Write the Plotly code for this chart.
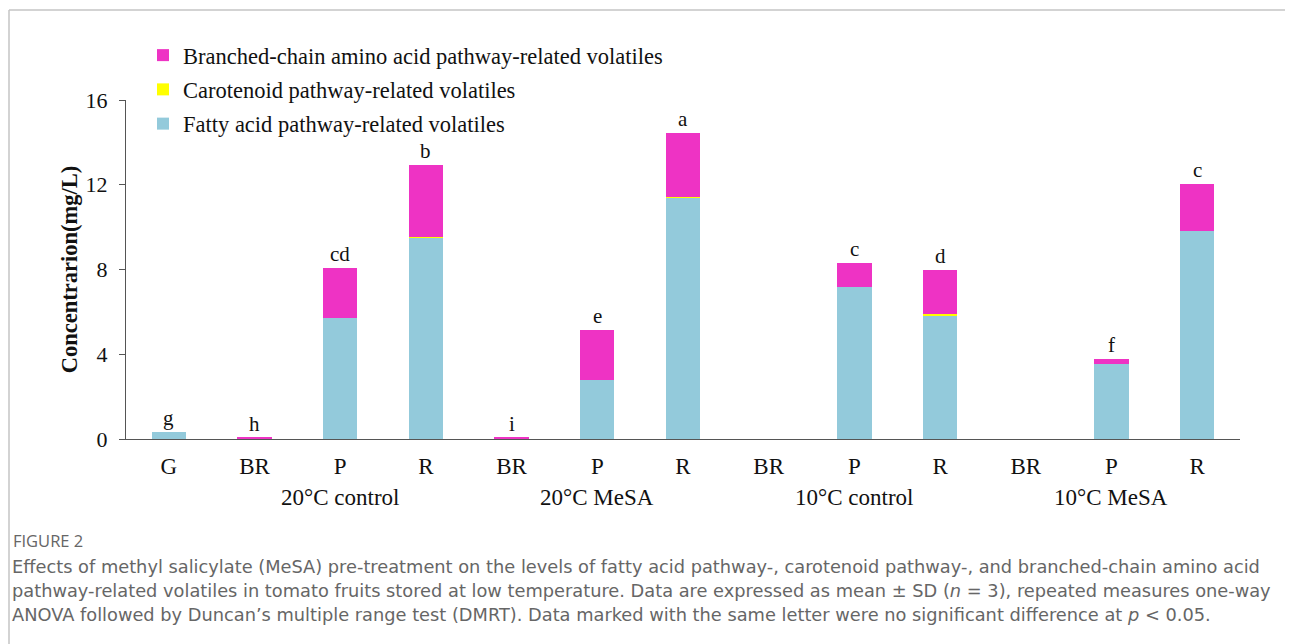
import plotly.graph_objects as go

# ---------------- data ----------------
stage_labels = ["G", "BR", "P", "R", "BR", "P", "R", "BR", "P", "R", "BR", "P", "R"]
group_labels = ["20°C control", "20°C MeSA", "10°C control", "10°C MeSA"]
group_center_index = [2, 5, 8, 11]

fatty_acid = [0.35, 0.02, 5.71, 9.50, 0.02, 2.78, 11.42, 0.0, 7.17, 5.85, 0.0, 3.54, 9.82]
carotenoid = [0.0, 0.0, 0.0, 0.04, 0.0, 0.0, 0.01, 0.0, 0.0, 0.04, 0.0, 0.0, 0.01]
branched_chain = [0.0, 0.04, 2.35, 3.40, 0.04, 2.35, 3.00, 0.0, 1.13, 2.08, 0.0, 0.23, 2.19]
sig_letters = ["g", "h", "cd", "b", "i", "e", "a", "", "c", "d", "", "f", "c"]

x_idx = list(range(len(stage_labels)))
totals = [a + b + c for a, b, c in zip(fatty_acid, carotenoid, branched_chain)]

SERIF = "Liberation Serif, Times New Roman, serif"
SANS = "DejaVu Sans, Open Sans, sans-serif"

# page offset of the figure div (browser default body margin)
OFF = 8
PL, PR, PT, PB = 126, 1240, 100, 439  # plot area in page pixels


def px_x(p):
    return (p - PL) / float(PR - PL)


def px_y(p):
    return (PB - p) / float(PB - PT)


fig = go.Figure()
fig.add_trace(go.Bar(x=x_idx, y=fatty_acid, name="Fatty acid pathway-related volatiles",
                     marker=dict(color="#93CADB", line=dict(width=0)), width=0.4,
                     legendgroup="fa", legendrank=3))
fig.add_trace(go.Bar(x=x_idx, y=carotenoid, name="Carotenoid pathway-related volatiles",
                     marker=dict(color="#FFFF00", line=dict(width=0)), width=0.4,
                     legendgroup="ca", legendrank=2))
fig.add_trace(go.Bar(x=x_idx, y=branched_chain, name="Branched-chain amino acid pathway-related volatiles",
                     marker=dict(color="#EE33C4", line=dict(width=0)), width=0.4,
                     legendgroup="bc", legendrank=1))

annotations = []
for xi, t, lab in zip(x_idx, totals, sig_letters):
    if lab:
        annotations.append(dict(x=xi, y=t, xref="x", yref="y", text=lab, showarrow=False,
                                yanchor="bottom", yshift=0,
                                font=dict(family=SERIF, size=21, color="#111")))
for gi, gl in zip(group_center_index, group_labels):
    annotations.append(dict(x=gi, y=px_y(498), xref="x", yref="paper", text=gl, showarrow=False,
                            yanchor="middle", font=dict(family=SERIF, size=23, color="#111")))

# caption
cap_lines = [
    "Effects of methyl salicylate (MeSA) pre-treatment on the levels of fatty acid pathway-, carotenoid pathway-, and branched-chain amino acid",
    "pathway-related volatiles in tomato fruits stored at low temperature. Data are expressed as mean ± SD (<i>n</i> = 3), repeated measures one-way",
    "ANOVA followed by Duncan’s multiple range test (DMRT). Data marked with the same letter were no significant difference at <i>p</i> &lt; 0.05.",
]

annotations.append(dict(x=px_x(11), y=px_y(540), xref="paper", yref="paper", text="FIGURE 2",
                        showarrow=False, xanchor="left", yanchor="middle",
                        font=dict(family="Open Sans, sans-serif", size=16.5, color="#666666")))
for i, line in enumerate(cap_lines):
    annotations.append(dict(x=px_x(10), y=px_y(566 + 24 * i), xref="paper", yref="paper", text=line,
                            showarrow=False, xanchor="left", yanchor="middle",
                            font=dict(family=SANS, size=17.8, color="#666666")))

shapes = [
    dict(type="line", xref="paper", yref="paper", x0=px_x(9), x1=px_x(1310), y0=px_y(10), y1=px_y(10),
         line=dict(color="#c4c4c4", width=1.5)),
    dict(type="line", xref="paper", yref="paper", x0=px_x(9), x1=px_x(9), y0=px_y(10), y1=px_y(660),
         line=dict(color="#c4c4c4", width=1.5)),
]

fig.update_layout(
    width=1293, height=644,
    barmode="stack",
    plot_bgcolor="white", paper_bgcolor="white",
    margin=dict(l=PL - OFF, r=1293 - (PR - OFF), t=PT - OFF, b=644 - (PB - OFF)),
    font=dict(family=SERIF, color="#111"),
    showlegend=True,
    legend=dict(x=px_x(143), y=px_y(34), xanchor="left", yanchor="top",
                traceorder="grouped", tracegroupgap=2,
                font=dict(family=SERIF, size=22.5, color="#111"),
                bgcolor="rgba(0,0,0,0)", itemwidth=30),
    xaxis=dict(range=[-0.5, 12.5], tickmode="array", tickvals=x_idx, ticktext=stage_labels,
               showline=True, linecolor="#555", linewidth=1.2, ticks="", showgrid=False,
               zeroline=False, ticklabelstandoff=6,
               tickfont=dict(family=SERIF, size=23, color="#111")),
    yaxis=dict(range=[0, 16], tickmode="array", tickvals=[0, 4, 8, 12, 16],
               showline=True, linecolor="#555", linewidth=1.2, ticks="outside", ticklen=6,
               tickcolor="#555", showgrid=False, zeroline=False,
               tickfont=dict(family=SERIF, size=22, color="#111"), ticklabelstandoff=7,
               title=dict(text="<b>Concentrarion(mg/L)</b>", standoff=1,
                          font=dict(family=SERIF, size=22.5, color="#111"))),
    annotations=annotations,
    shapes=shapes,
)

fig.write_html("out.html")
